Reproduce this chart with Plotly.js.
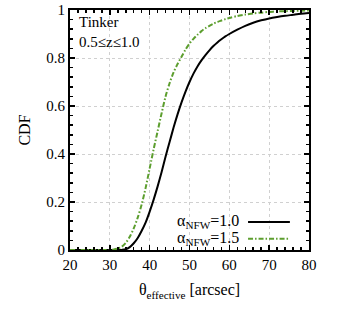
<!DOCTYPE html>
<html>
<head>
<meta charset="utf-8">
<script src="https://cdn.plot.ly/plotly-3.0.1.min.js"></script>
<style>html,body{margin:0;padding:0;background:#fff;}#chart{width:353px;height:314px;}</style>
</head>
<body>
<div id="chart"></div>
<script>
const theta = [20,25,30,31,32,33,34,35,36,37,38,39,40,41,42,43,44,45,46,47,48,49,50,51,52,53,54,55,56,57,58,59,60,62,64,66,68,70,72,74,76,78,80];
const cdfAlpha10 = [0,0,0,0,0,0.0005,0.003,0.012,0.028,0.05,0.08,0.115,0.16,0.21,0.265,0.325,0.39,0.45,0.51,0.565,0.615,0.66,0.70,0.735,0.765,0.79,0.812,0.832,0.85,0.865,0.878,0.89,0.90,0.918,0.934,0.947,0.957,0.965,0.971,0.976,0.98,0.984,0.987];
const cdfAlpha15 = [0,0,0,0.002,0.006,0.014,0.03,0.055,0.09,0.135,0.19,0.26,0.34,0.42,0.495,0.57,0.64,0.695,0.74,0.775,0.805,0.835,0.86,0.88,0.897,0.912,0.924,0.934,0.943,0.95,0.956,0.962,0.967,0.975,0.981,0.986,0.989,0.992,0.994,0.995,0.996,0.997,0.998];
const seriesNames = ['α<sub>NFW</sub>=1.0', 'α<sub>NFW</sub>=1.5'];
const xTicks = [20,30,40,50,60,70,80];
const yTicks = [0,0.2,0.4,0.6,0.8,1];
const yTickText = ['0','0.2','0.4','0.6','0.8','1'];

const black = '#000000';
const green = '#5c9e2e';
const font = 'Liberation Serif';

const traces = [
  {x: theta, y: cdfAlpha10, mode: 'lines', name: seriesNames[0], line: {color: black, width: 2, shape: 'spline', smoothing: 0.8}, showlegend: false},
  {x: theta, y: cdfAlpha15, mode: 'lines', name: seriesNames[1], line: {color: green, width: 2, dash: '5px,2px,1.5px,2px', shape: 'spline', smoothing: 0.8}, showlegend: false}
];

const axisCommon = {
  showline: true, linecolor: black, linewidth: 2, mirror: 'ticks',
  ticks: 'inside', ticklen: 5, tickwidth: 1.5, tickcolor: black,
  showgrid: true, gridcolor: '#d0d0d0', gridwidth: 1, griddash: 'dot',
  zeroline: false, tickfont: {family: font, size: 15, color: black}
};

const layout = {
  width: 353, height: 314,
  margin: {l: 70, r: 44, t: 10, b: 64},
  paper_bgcolor: '#fff', plot_bgcolor: '#fff',
  font: {family: font, color: black},
  xaxis: Object.assign({}, axisCommon, {
    range: [20, 80], tickvals: xTicks, ticktext: xTicks.map(String),
    minor: {dtick: 2, ticks: 'inside', ticklen: 3, tickwidth: 1.5, tickcolor: black, showgrid: false},
    title: {text: 'θ<sub>effective</sub> [arcsec]', font: {family: font, size: 16, color: black}, standoff: 12}
  }),
  yaxis: Object.assign({}, axisCommon, {
    range: [0, 1], tickvals: yTicks, ticktext: yTickText,
    minor: {dtick: 0.04, ticks: 'inside', ticklen: 3, tickwidth: 1.5, tickcolor: black, showgrid: false},
    title: {text: 'CDF', font: {family: font, size: 16, color: black}, standoff: 12}
  }),
  annotations: [
    {xref: 'paper', yref: 'paper', x: 0.03, y: 0.99, xanchor: 'left', yanchor: 'top', align: 'left', showarrow: false,
     text: 'Tinker<br>0.5≤z≤1.0', font: {family: font, size: 15, color: black}},
    {xref: 'paper', yref: 'paper', x: 0.715, y: 0.117, xanchor: 'right', yanchor: 'middle', showarrow: false,
     text: seriesNames[0], font: {family: font, size: 16, color: black}},
    {xref: 'paper', yref: 'paper', x: 0.715, y: 0.047, xanchor: 'right', yanchor: 'middle', showarrow: false,
     text: seriesNames[1], font: {family: font, size: 16, color: black}}
  ],
  shapes: [
    {type: 'line', xref: 'paper', yref: 'paper', x0: 0.745, x1: 0.92, y0: 0.117, y1: 0.117, line: {color: black, width: 2}},
    {type: 'line', xref: 'paper', yref: 'paper', x0: 0.745, x1: 0.92, y0: 0.047, y1: 0.047, line: {color: green, width: 2, dash: '5px,2px,1.5px,2px'}}
  ]
};

Plotly.newPlot('chart', traces, layout, {staticPlot: true, displayModeBar: false});
</script>
</body>
</html>
